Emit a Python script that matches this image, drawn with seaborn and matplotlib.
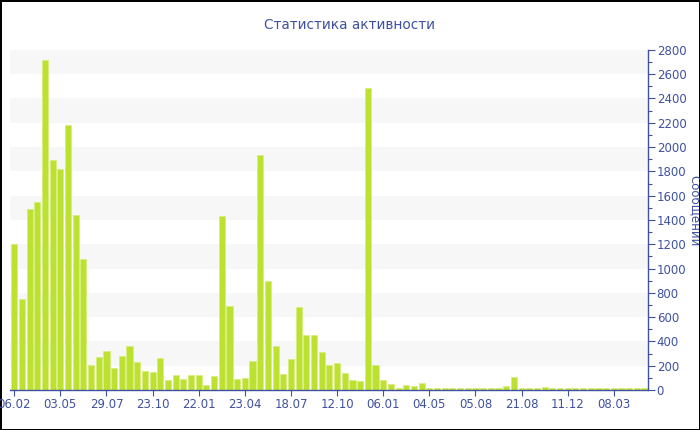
import matplotlib
matplotlib.use("Agg")
import matplotlib.pyplot as plt
import seaborn as sns
import pandas as pd
from matplotlib.ticker import MultipleLocator

values = [1200, 750, 1490, 1550, 2715, 1890, 1820, 2185, 1440, 1075,
          205, 270, 325, 185, 280, 360, 230, 155, 145, 260,
          80, 125, 90, 120, 120, 40, 115, 1430, 695, 90,
          95, 240, 1935, 900, 365, 130, 255, 680, 455, 450,
          315, 205, 220, 140, 85, 75, 2490, 205, 85, 50,
          15, 40, 30, 55, 20, 15, 20, 20, 18, 20,
          14, 14, 16, 16, 30, 105, 16, 16, 16, 24,
          16, 16, 16, 18, 16, 16, 18, 16, 16, 18,
          16, 16, 16]
tick_labels = ["06.02", "03.05", "29.07", "23.10", "22.01", "23.04", "18.07",
               "12.10", "06.01", "04.05", "05.08", "21.08", "11.12", "08.03"]
title = "Статистика активности"
ylabel = "Сообщений"

sns.set_theme(style="white")
plt.rcParams['font.family'] = ['DejaVu Sans']

blue = "#3F51A0"
bar_color = "#BDE131"

df = pd.DataFrame({"idx": list(range(len(values))), "value": values})

fig = plt.figure(figsize=(7, 4.3), dpi=100)
ax = fig.add_axes([0.0143, 0.093, 0.912, 0.791])

for lo in range(200, 2800, 400):
    ax.axhspan(lo, lo + 200, color="#F7F7F7", zorder=0, lw=0)

sns.barplot(data=df, x="idx", y="value", color=bar_color, width=0.8,
            saturation=1, ax=ax, zorder=2, edgecolor="#D6EE7A", linewidth=0.5)

ax.set_xlim(-0.55, len(values) - 0.5)
ax.set_ylim(0, 2800)
ax.set_xticks(list(range(0, len(values), 6))[:len(tick_labels)])
ax.set_xticklabels(tick_labels)
ax.set_xlabel("")
ax.set_ylabel("")

ax.yaxis.tick_right()
ax.yaxis.set_major_locator(MultipleLocator(200))
ax.yaxis.set_minor_locator(MultipleLocator(100))
for s in ["left", "top"]:
    ax.spines[s].set_visible(False)
for s in ["right", "bottom"]:
    ax.spines[s].set_color(blue)
    ax.spines[s].set_linewidth(1)
ax.tick_params(axis="y", which="major", right=True, left=False, length=5, width=0.8,
               color=blue, labelcolor=blue, labelsize=8.5, pad=1)
ax.tick_params(axis="y", which="minor", right=True, left=False, length=3, width=0.8, color=blue)
ax.tick_params(axis="x", bottom=True, length=4, width=0.8, color=blue,
               labelcolor=blue, labelsize=8.5, pad=2)
ax.set_facecolor("white")

fig.text(0.5, 0.942, title, ha="center", va="center", color=blue, fontsize=9.8)
fig.text(0.992, 0.51, ylabel, ha="center", va="center", rotation=-90,
         color=blue, fontsize=8.5)

fig.patch.set_edgecolor("black")
fig.patch.set_linewidth(2)
fig.savefig("out.png", dpi=100, facecolor="white", edgecolor="black")
